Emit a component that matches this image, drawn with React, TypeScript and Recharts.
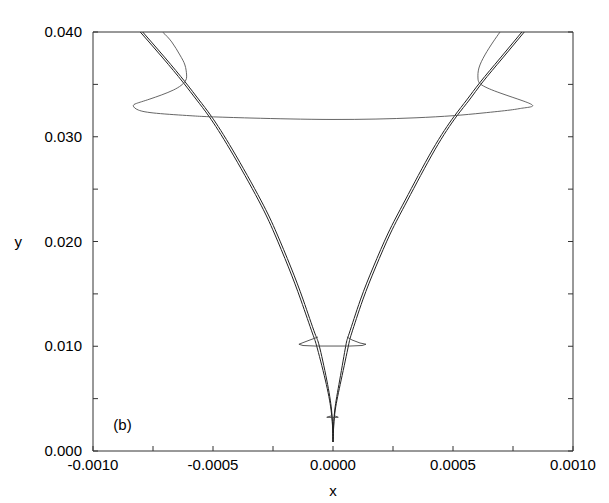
import { ReferenceDot, Scatter, ScatterChart, XAxis, YAxis } from 'recharts';

const FONT = '"Liberation Sans", Arial, Helvetica, sans-serif';
const AXIS = '#333';

// levels shared by the four branch curves
const branchY = [0.04, 0.03752, 0.03523, 0.03351, 0.03189, 0.02874, 0.02396, 0.02081, 0.01757, 0.01442, 0.01126, 0.01002, 0.00678, 0.00391, 0.002, 0.00086];
const leftOuterX = [-0.000803, -0.000709, -0.000626, -0.000568, -0.000515, -0.000428, -0.000311, -0.000245, -0.000186, -0.000134, -0.000086, -0.000068, -0.000032, -0.000008, -0.0000013, 0];
const leftInnerX = [-0.000793, -0.000699, -0.000616, -0.000558, -0.000505, -0.000418, -0.000301, -0.000235, -0.000176, -0.000124, -0.000076, -0.000057, -0.000026, -0.000006, -0.0000013, 0];
const rightOuterX = [0.000797, 0.000707, 0.000624, 0.000568, 0.000513, 0.000424, 0.000311, 0.00024, 0.000178, 0.000124, 0.000078, 0.000064, 0.000034, 0.0000093, 0.000002, 0];
const rightInnerX = [0.000787, 0.000697, 0.000614, 0.000557, 0.000503, 0.000414, 0.000301, 0.00023, 0.000168, 0.000114, 0.000068, 0.000053, 0.000028, 0.0000073, 0.000002, 0];

// wide loop near y = 0.032
const upperLoopX = [-0.00071, -0.000672, -0.000638, -0.000617, -0.00061, -0.000617, -0.000665, -0.000763, -0.000818, -0.000832, -0.000811, -0.000735, -0.000596, -0.000513, -0.000346, -0.000179, 0, 0.000179, 0.000346, 0.0005, 0.000625, 0.000738, 0.000792, 0.000832, 0.000792, 0.000696, 0.00062, 0.000604, 0.000608, 0.000633, 0.000667, 0.000696];
const upperLoopY = [0.04, 0.03905, 0.03781, 0.03685, 0.0359, 0.03526, 0.03446, 0.0336, 0.03319, 0.03294, 0.03255, 0.03224, 0.03201, 0.03191, 0.03179, 0.0317, 0.03165, 0.03169, 0.03181, 0.03201, 0.03227, 0.03255, 0.03274, 0.03294, 0.03342, 0.03418, 0.03494, 0.03561, 0.03656, 0.03781, 0.03905, 0.04];

// small loop near y = 0.010
const lowerLoopX = [-0.0000625, -0.0000958, -0.000129, -0.000142, -0.000125, -0.000075, 0, 0.0000708, 0.000121, 0.0001375, 0.0001125, 0.0000792, 0.0000583];
const lowerLoopY = [0.01088, 0.0106, 0.01031, 0.01019, 0.01007, 0.01002, 0.01002, 0.01002, 0.01007, 0.01019, 0.01031, 0.0106, 0.01088];

// tiny cross near y = 0.003
const crossX = [-0.000008, -0.000026, 0, 0.000022, 0.000008];
const crossY = [0.00335, 0.00322, 0.0032, 0.00322, 0.00335];

const xTicks = [-0.001, -0.00075, -0.0005, -0.00025, 0, 0.00025, 0.0005, 0.00075, 0.001];
const yTicks = [0, 0.005, 0.01, 0.015, 0.02, 0.025, 0.03, 0.035, 0.04];

const zip = (xs: number[], ys: number[]) => xs.map((x, i) => ({ x, y: ys[i] }));

const curves = [
  { key: 'lo', data: zip(leftOuterX, branchY), stroke: '#222', width: 1, joint: 'natural' },
  { key: 'li', data: zip(leftInnerX, branchY), stroke: '#222', width: 1, joint: 'natural' },
  { key: 'ro', data: zip(rightOuterX, branchY), stroke: '#222', width: 1, joint: 'natural' },
  { key: 'ri', data: zip(rightInnerX, branchY), stroke: '#222', width: 1, joint: 'natural' },
  { key: 'ul', data: zip(upperLoopX, upperLoopY), stroke: '#555', width: 0.9, joint: 'natural' },
  { key: 'll', data: zip(lowerLoopX, lowerLoopY), stroke: '#444', width: 0.9, joint: 'linear' },
  { key: 'cr', data: zip(crossX, crossY), stroke: '#444', width: 0.9, joint: 'linear' },
];

const isMajor = (v: number, step: number) => Math.abs(v / step - Math.round(v / step)) < 1e-6;

function BottomTick({ x, y, payload }: any) {
  const v = payload.value;
  return (
    <g>
      <line x1={x} y1={y} x2={x} y2={y - 5} stroke={AXIS} />
      {isMajor(v, 0.0005) && (
        <text x={x} y={y + 19} textAnchor="middle" fontSize={15} fill="#000" fontFamily={FONT}>
          {v.toFixed(4)}
        </text>
      )}
    </g>
  );
}

function TopTick({ x, y }: any) {
  return <line x1={x} y1={y} x2={x} y2={y + 5} stroke={AXIS} />;
}

function LeftTick({ x, y, payload }: any) {
  const v = payload.value;
  return (
    <g>
      <line x1={x} y1={y} x2={x + 5} y2={y} stroke={AXIS} />
      {isMajor(v, 0.01) && (
        <text x={x - 11} y={y + 5} textAnchor="end" fontSize={15} fill="#000" fontFamily={FONT}>
          {v.toFixed(3)}
        </text>
      )}
    </g>
  );
}

function RightTick({ x, y }: any) {
  return <line x1={x} y1={y} x2={x - 5} y2={y} stroke={AXIS} />;
}

const noDot = () => <g />;

export default function App() {
  return (
    <ScatterChart width={590} height={494} margin={{ top: 23, right: 24, bottom: 21, left: 25 }}>
      <XAxis
        xAxisId="b"
        type="number"
        dataKey="x"
        domain={[-0.001, 0.001]}
        allowDataOverflow
        ticks={xTicks}
        interval={0}
        tickSize={0}
        tickMargin={0}
        tickLine={false}
        tick={<BottomTick />}
        axisLine={{ stroke: AXIS }}
        height={30}
        label={{ value: 'x', position: 'bottom', offset: 4, fontSize: 15, fill: '#000', fontFamily: FONT }}
      />
      <XAxis
        xAxisId="t"
        orientation="top"
        type="number"
        domain={[-0.001, 0.001]}
        allowDataOverflow
        ticks={xTicks}
        interval={0}
        tickSize={0}
        tickMargin={0}
        tickLine={false}
        tick={<TopTick />}
        axisLine={{ stroke: AXIS }}
        height={1}
      />
      <YAxis
        yAxisId="l"
        type="number"
        dataKey="y"
        domain={[0, 0.04]}
        allowDataOverflow
        ticks={yTicks}
        interval={0}
        tickSize={0}
        tickMargin={0}
        tickLine={false}
        tick={<LeftTick />}
        axisLine={{ stroke: AXIS }}
        width={60}
        label={{ value: 'y', position: 'left', offset: 11, fontSize: 15, fill: '#000', fontFamily: FONT }}
      />
      <YAxis
        yAxisId="r"
        orientation="right"
        type="number"
        domain={[0, 0.04]}
        allowDataOverflow
        ticks={yTicks}
        interval={0}
        tickSize={0}
        tickMargin={0}
        tickLine={false}
        tick={<RightTick />}
        axisLine={{ stroke: AXIS }}
        width={1}
      />
      {curves.map((c) => (
        <Scatter
          key={c.key}
          xAxisId="b"
          yAxisId="l"
          data={c.data}
          line={{ stroke: c.stroke, strokeWidth: c.width }}
          lineType="joint"
          lineJointType={c.joint as any}
          shape={noDot}
          legendType="none"
          isAnimationActive={false}
        />
      ))}
      <ReferenceDot
        xAxisId="b"
        yAxisId="l"
        x={-0.000877}
        y={0.00248}
        r={0}
        fill="none"
        stroke="none"
        label={{ value: '(b)', position: 'center', fontSize: 15, fill: '#000', fontFamily: FONT }}
      />
    </ScatterChart>
  );
}
